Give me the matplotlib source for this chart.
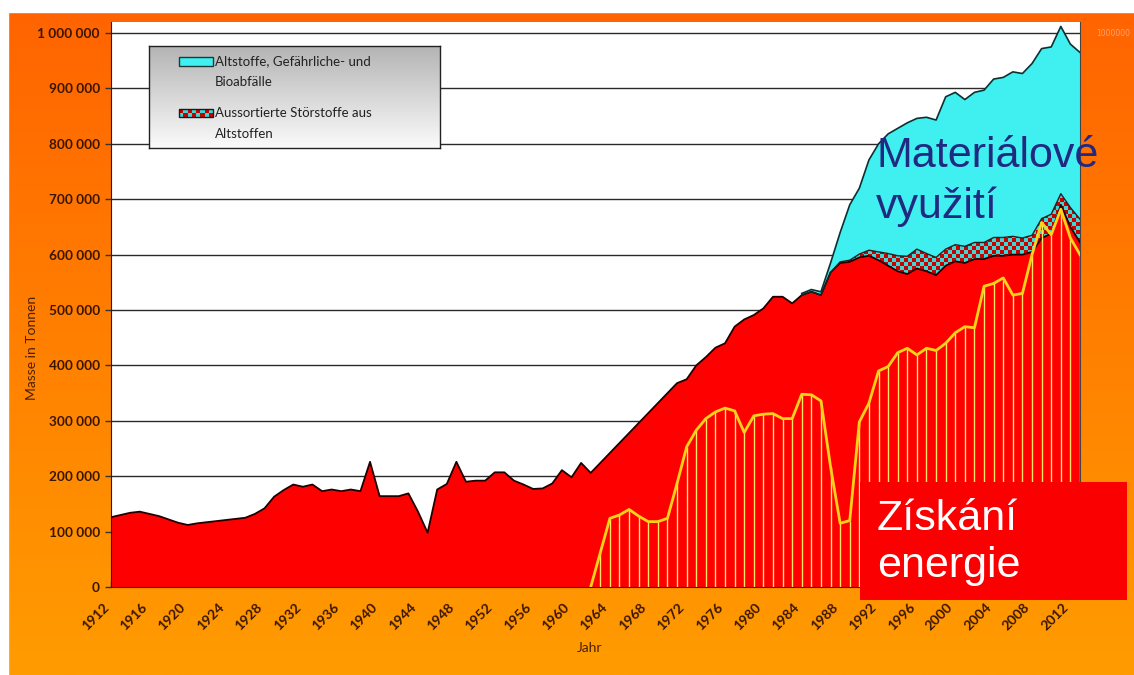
import numpy as np
import matplotlib.pyplot as plt
from matplotlib.colors import ListedColormap, LinearSegmentedColormap
from matplotlib.patches import Rectangle

W, H = 1134, 675

# data in thousands of tonnes
years = np.arange(1912, 2014)
rest = [126, 130, 134, 136, 132, 128, 122, 116, 112, 115,
        117, 119, 121, 123, 125, 132, 142, 163, 175, 185,
        181, 185, 173, 176, 173, 176, 173, 226, 164, 164,
        164, 169, 136, 98, 176, 186, 226, 190, 192, 192,
        207, 207, 192, 185, 177, 178, 187, 211, 198, 224,
        206, 224, 242, 260, 278, 296, 314, 332, 350, 368,
        375, 400, 415, 432, 440, 470, 483, 491, 503, 524,
        524, 512, 527, 533, 527, 568, 585, 587, 595, 598,
        590, 580, 570, 565, 575, 570, 563, 580, 588, 585,
        592, 592, 598, 598, 600, 600, 605, 630, 638, 690,
        650, 622]

late_years = np.arange(1984, 2014)
stoer = [0, 0, 0, 0, 2, 3, 6, 10, 15, 22, 28, 32, 35, 32, 32,
         30, 30, 30, 30, 30, 33, 33, 33, 30, 30, 35, 35, 20, 35, 42]
altstoffe = [3, 4, 6, 17, 53, 100, 119, 163, 195, 216, 230, 241, 236, 246, 248,
             275, 275, 265, 271, 275, 286, 289, 297, 297, 310, 307, 302, 302, 295, 301]

energy_years = np.arange(1962, 2014)
energy = [0, 62, 124, 130, 140, 128, 118, 118, 124, 187,
          253, 283, 304, 316, 323, 318, 279, 309, 312, 313,
          304, 304, 348, 347, 336, 217, 115, 120, 298, 332,
          390, 398, 423, 431, 419, 431, 427, 440, 459, 470,
          468, 543, 548, 558, 527, 530, 600, 658, 636, 682,
          630, 600]

legend_labels = ["Altstoffe, Gefährliche- und", "Bioabfälle",
                 "Aussortierte Störstoffe aus", "Altstoffen"]

rest = np.array(rest) * 1000
stoer = np.array(stoer) * 1000
altstoffe = np.array(altstoffe) * 1000
energy = np.array(energy) * 1000
rest_late = rest[years >= 1984]

fig = plt.figure(figsize=(W / 100, H / 100), dpi=100)

# orange slide background
bg = fig.add_axes([0, 0, 1, 1], zorder=-10)
grad = np.linspace(0, 1, 256)[:, None]
bg.imshow(grad, cmap=LinearSegmentedColormap.from_list('bg', ['#ff6400', '#ff9c00']),
          aspect='auto', extent=[0, 1, 0, 1 - 12 / H])
bg.add_patch(Rectangle((0, 1 - 12 / H), 1, 12 / H, color='white'))
bg.add_patch(Rectangle((0, 0), 8 / W, 1, color='white'))
bg.set_xlim(0, 1)
bg.set_ylim(0, 1)
bg.axis('off')

ax = fig.add_axes([111 / W, (H - 587) / H, 969 / W, 565 / H])
ax.set_facecolor('white')

# red area
ax.fill_between(years, 0, rest, facecolor='#ff0000', edgecolor='none', zorder=2)
ax.plot(years, rest, color='#200000', lw=1.3, zorder=3)

# checkered band
poly = ax.fill_between(late_years, rest_late, rest_late + stoer,
                       facecolor='none', edgecolor='none', zorder=2)
ny, nx = 141, 242
checker = np.indices((ny, nx)).sum(axis=0) % 2
im = ax.imshow(checker, cmap=ListedColormap(['#3fd6d6', '#c80000']),
               extent=[1912, 2013, 0, 1.02e6], aspect='auto',
               interpolation='nearest', zorder=2.5)
im.set_clip_path(poly.get_paths()[0], ax.transData)

# cyan area
ax.fill_between(late_years, rest_late + stoer, rest_late + stoer + altstoffe,
                facecolor='#40f0f0', edgecolor='none', zorder=2)
ax.plot(late_years, rest_late + stoer, color='#202020', lw=1.0, zorder=3)
ax.plot(late_years, rest_late + stoer + altstoffe, color='#103030', lw=1.2, zorder=3)

# energy line with drop lines
ax.vlines(energy_years[1:], 0, energy[1:], color='#ffe36a', lw=1, zorder=4)
ax.plot(energy_years, energy, color='#ffd21a', lw=2, zorder=5)

ax.set_xlim(1912, 2013)
ax.set_ylim(0, 1.02e6)

yt = np.arange(0, 1000001, 100000)
ax.set_yticks(yt)
ax.set_yticklabels([f"{v:,}".replace(',', ' ') for v in yt],
                   fontfamily='Lato', fontweight='bold', fontsize=9.8, color='#3a1500')
xt = np.arange(1912, 2013, 4)
ax.set_xticks(xt)
ax.set_xticklabels([str(v) for v in xt], rotation=45, ha='right', va='top',
                   fontfamily='Lato', fontweight='bold', fontsize=10, color='#3a1500')
ax.tick_params(axis='y', direction='out', length=4, width=1, pad=4, color='#333333')
ax.tick_params(axis='x', direction='in', length=4, width=1, pad=10, color='#333333')
ax.yaxis.grid(True, color='#2a2a2a', lw=1)
ax.set_axisbelow(True)
ax.spines['top'].set_visible(False)
ax.spines['right'].set_color('#444444')
ax.spines['right'].set_linewidth(0.8)
ax.spines['left'].set_color('#222222')
ax.spines['bottom'].set_color('#222222')

fig.text(32 / W, 1 - 348 / H, 'Masse in Tonnen', rotation=90, ha='center', va='center',
         fontfamily='Lato', fontsize=10, color='#4a2000')
fig.text(590 / W, 1 - 648 / H, 'Jahr', ha='center', va='center',
         fontfamily='Lato', fontsize=10, color='#4a2000')
fig.text(1096 / W, 1 - 33 / H, '1000000', ha='left', va='center',
         fontsize=5.5, color='#ffa070')

# legend box
lax = fig.add_axes([149 / W, 1 - 148 / H, 291 / W, 102 / H], zorder=5)
lax.imshow(grad, cmap=LinearSegmentedColormap.from_list('lg', ['#b4b4b4', '#fbfbfb']),
           aspect='auto', extent=[0, 1, 0, 1])
lax.set_xlim(0, 1)
lax.set_ylim(0, 1)
lax.set_xticks([])
lax.set_yticks([])
for s in lax.spines.values():
    s.set_color('#222222')
    s.set_linewidth(1)

def ly(py):
    return 1 - (py - 46) / 102

px0, px1 = (179 - 149) / 291, (213 - 149) / 291
lax.add_patch(Rectangle((px0, ly(66)), px1 - px0, ly(57) - ly(66),
                        facecolor='#40f0f0', edgecolor='#1a3a3a', lw=1))
n = 8
cw = (px1 - px0) / n
ch = (ly(109) - ly(117)) / 2
for i in range(n):
    for j in range(2):
        lax.add_patch(Rectangle((px0 + i * cw, ly(117) + j * ch), cw, ch,
                                facecolor='#c80000' if (i + j) % 2 else '#3fd6d6',
                                edgecolor='none'))
lax.add_patch(Rectangle((px0, ly(117)), px1 - px0, ly(109) - ly(117),
                        facecolor='none', edgecolor='#1a1a1a', lw=1))
for txt, py in zip(legend_labels, [61, 82, 113, 134]):
    lax.text((215 - 149) / 291, ly(py), txt, ha='left', va='center',
             fontfamily='Lato', fontsize=9.5, color='#222222')

# overlay labels
fig.text(876 / W, 1 - 167 / H, 'Materiálové', ha='left', va='baseline',
         fontfamily='Liberation Sans', fontsize=31, color='#1f2a80')
fig.text(876 / W, 1 - 218 / H, 'využití', ha='left', va='baseline',
         fontfamily='Liberation Sans', fontsize=31, color='#1f2a80')

fig.add_artist(Rectangle((860 / W, 1 - 600 / H), 267 / W, 118 / H,
                         transform=fig.transFigure, facecolor='#fb0000', edgecolor='none', zorder=6))
fig.text(877 / W, 1 - 530 / H, 'Získání', ha='left', va='baseline', zorder=7,
         fontfamily='Liberation Sans', fontsize=31, color='white')
fig.text(877 / W, 1 - 577 / H, 'energie', ha='left', va='baseline', zorder=7,
         fontfamily='Liberation Sans', fontsize=31, color='white')

fig.savefig('out.png', dpi=100)
